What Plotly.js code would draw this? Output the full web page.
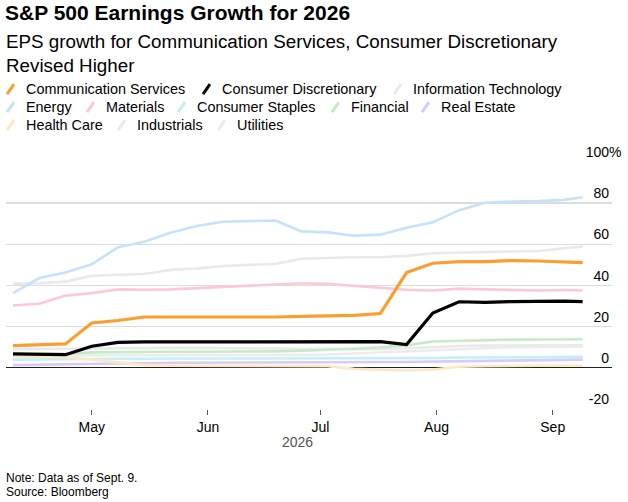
<!DOCTYPE html>
<html>
<head>
<meta charset="utf-8">
<script src="https://cdn.plot.ly/plotly-3.0.1.min.js"></script>
<style>
html,body{margin:0;padding:0;background:#fff;}
#chart{width:628px;height:502px;}
</style>
</head>
<body>
<div id="chart"></div>
<script>
// ---- data ----
const dates = ['2026-04-10','2026-04-17','2026-04-24','2026-05-01','2026-05-08','2026-05-15','2026-05-22','2026-05-29','2026-06-05','2026-06-12','2026-06-19','2026-06-26','2026-07-03','2026-07-10','2026-07-17','2026-07-24','2026-07-31','2026-08-07','2026-08-14','2026-08-21','2026-08-28','2026-09-04','2026-09-09'];
const commServices = [10.8,11.1,11.6,21.8,23.0,24.7,24.7,24.7,24.5,24.4,24.7,25.0,25.2,25.5,26.4,46.3,50.8,51.6,51.6,52.1,51.9,51.6,51.1];
const consDiscretionary = [6.8,6.6,6.4,10.5,12.4,12.6,12.6,12.6,12.6,12.6,12.6,12.6,12.6,12.6,12.7,11.3,26.6,32.1,31.8,32.2,32.4,32.4,32.2];
const infoTech = [40.8,41.1,41.9,44.7,45.2,45.6,47.6,48.2,49.5,50.0,50.5,53.0,53.5,53.7,53.7,54.4,55.7,56.0,56.1,56.5,56.8,58.1,58.9];
const energy = [36.3,43.6,46.3,50.3,58.6,61.3,65.6,68.9,71.0,71.4,71.6,66.3,65.8,64.2,64.7,68.1,70.7,76.6,80.2,80.8,81.0,81.6,82.9];
const materials = [30.3,31.1,35.1,36.3,38.1,37.9,38.1,38.7,39.3,40.0,40.3,41.1,40.8,39.8,38.7,37.9,37.6,38.5,38.1,37.9,37.6,37.8,37.6];
const consStaples = [4.0,4.0,4.1,4.3,4.4,4.5,4.5,4.5,4.5,4.5,4.5,4.5,4.5,4.5,4.6,4.7,4.8,5.0,5.1,5.2,5.3,5.3,5.3];
const financial = [6.5,6.6,6.8,7.5,7.7,7.8,7.8,7.8,7.8,7.9,8.0,8.3,8.7,9.3,10.0,11.0,12.8,13.2,13.5,13.7,13.8,13.9,13.9];
const realEstate = [1.3,1.5,1.7,2.1,2.4,2.5,2.5,2.5,2.5,2.5,2.5,2.5,2.6,2.6,2.7,2.8,3.0,3.2,3.4,3.6,3.8,3.9,4.0];
const healthCare = [5.5,5.4,5.2,4.0,2.5,1.3,1.0,1.0,1.0,1.0,1.0,0.9,0.8,-0.5,-1.0,-1.3,-0.8,0.5,0.8,1.0,1.0,1.0,1.0];
const industrials = [9.0,9.1,9.3,9.6,9.7,9.7,9.7,9.6,9.6,9.5,9.4,9.3,9.2,9.0,9.0,9.5,10.2,10.6,10.8,10.9,10.9,11.0,11.0];
const utilities = [6.0,6.0,6.0,6.0,6.1,6.1,6.1,6.1,6.2,6.2,6.2,6.3,6.5,7.0,7.5,8.0,8.6,9.3,9.8,10.0,10.2,10.3,10.4];

const yTickVals = [-20,0,20,40,60,80,100];
const yTickText = ['-20','0','20','40','60','80','100'];
const xTickVals = ['2026-05-01','2026-06-01','2026-07-01','2026-08-01','2026-09-01'];
const xTickText = ['May','Jun','Jul','Aug','Sep'];

const seriesNames = ['Communication Services','Consumer Discretionary','Information Technology','Energy','Materials','Consumer Staples','Financial','Real Estate','Health Care','Industrials','Utilities'];
const seriesValues = [commServices,consDiscretionary,infoTech,energy,materials,consStaples,financial,realEstate,healthCare,industrials,utilities];
const seriesColors = ['#fb9d2f','#000000','#e9e9e9','#c6e2fb','#fcc7dd','#c2eff8','#c7eac6','#dacafb','#fde8c3','#e9e9e9','#ececec'];
const seriesWidths = [3.2,3.2,2.6,2.6,2.6,2.6,2.6,2.6,2.6,2.6,2.6];
// legend layout rows
const legendRows = [[0,1,2],[3,4,5,6,7],[8,9,10]];
const legendTextX = [[26,222,413],[26,106,197,351,441],[26,137,237]];
const legendRowY = [89,107,125];

// ---- geometry ----
const W = 628, H = 502;
const M = {l:6, r:16, t:162, b:92.7};
const PW = W - M.l - M.r, PH = H - M.t - M.b;
const px = x => (x - M.l) / PW;
const py = y => (H - M.b - y) / PH;

const FONT = 'Liberation Sans, Arial, sans-serif';

const drawOrder = [2,3,4,9,10,5,6,7,8,0,1];
const traces = drawOrder.map(i => ({
  type:'scatter', mode:'lines', x: dates, y: seriesValues[i], name: seriesNames[i],
  line:{color: seriesColors[i], width: seriesWidths[i]}, hoverinfo:'skip', showlegend:false
}));

const annotations = [];
const shapes = [];
legendRows.forEach((row, r) => {
  row.forEach((idx, k) => {
    const tx = legendTextX[r][k];
    const cy = legendRowY[r];
    annotations.push({xref:'paper', yref:'paper', x: px(tx-2), y: py(cy), xanchor:'left', yanchor:'middle',
      text: seriesNames[idx], showarrow:false, font:{family:FONT, size:14.4, color:'#000'}});
    shapes.push({type:'line', xref:'paper', yref:'paper', x0: px(tx-19), y0: py(cy+5), x1: px(tx-12), y1: py(cy-5),
      line:{color: seriesColors[idx], width:3}});
  });
});
// subtitle
annotations.push({xref:'paper', yref:'paper', x: px(4), y: py(29), xanchor:'left', yanchor:'top', align:'left',
  text:'EPS growth for Communication Services, Consumer Discretionary<br>Revised Higher', showarrow:false,
  font:{family:FONT, size:18.8, color:'#000'}});
// percent sign after top tick
annotations.push({xref:'paper', yref:'y', x: px(607.5), y: 100, xanchor:'left', yanchor:'bottom', yshift:1,
  text:'%', showarrow:false, borderpad:0, font:{family:FONT, size:14, color:'#000'}});
// year label
annotations.push({xref:'paper', yref:'paper', x: px(297.5), y: py(442), xanchor:'center', yanchor:'middle',
  text:'2026', showarrow:false, font:{family:FONT, size:14, color:'#555'}});
// note and source
annotations.push({xref:'paper', yref:'paper', x: px(4), y: py(478.5), xanchor:'left', yanchor:'middle',
  text:'Note: Data as of Sept. 9.', showarrow:false, font:{family:FONT, size:12, color:'#000'}});
annotations.push({xref:'paper', yref:'paper', x: px(4), y: py(492), xanchor:'left', yanchor:'middle',
  text:'Source: Bloomberg', showarrow:false, font:{family:FONT, size:12, color:'#000'}});

const layout = {
  width: W, height: H,
  margin: M,
  paper_bgcolor:'#fff', plot_bgcolor:'#fff',
  showlegend:false,
  title:{text:'<b>S&P 500 Earnings Growth for 2026</b>', x: 5/W, xref:'container', xanchor:'left',
    y: 1 - 13/H, yref:'container', yanchor:'middle', font:{family:FONT, size:21, color:'#000'}},
  xaxis:{type:'date', range:['2026-04-08 03:00','2026-09-16 19:40'], tickvals: xTickVals, ticktext: xTickText,
    showgrid:false, zeroline:false, showline:false, ticks:'outside', ticklen:5, tickcolor:'#555', tickwidth:1,
    tickfont:{family:FONT, size:14, color:'#000'}, fixedrange:true},
  yaxis:{range:[-20,100], side:'right', tickvals: yTickVals, ticktext: yTickText, ticklabelposition:'inside top',
    ticklabeloverflow:'allow',
    showgrid:true, gridcolor:'#dcdcdc', gridwidth:1.5, zeroline:true, zerolinecolor:'#222', zerolinewidth:1,
    ticks:'', showline:false, tickfont:{family:FONT, size:14, color:'#000'}, fixedrange:true},
  annotations, shapes
};

Plotly.newPlot('chart', traces, layout, {displayModeBar:false, staticPlot:true});
</script>
</body>
</html>
